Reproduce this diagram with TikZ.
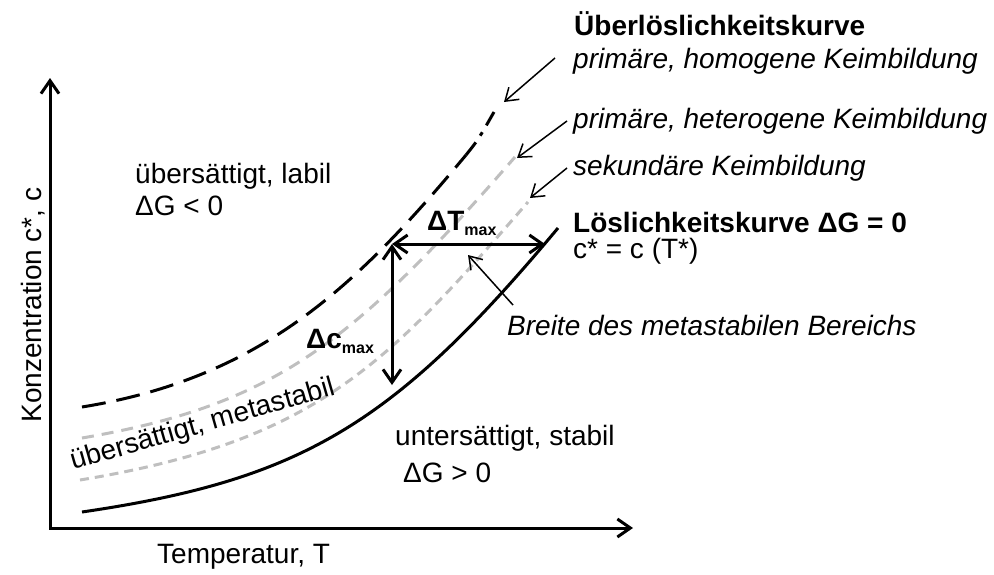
\documentclass[tikz,border=0pt]{standalone}
\usepackage{fontspec}
\setmainfont{Liberation Sans}
\usetikzlibrary{arrows.meta}
\definecolor{lightgr}{HTML}{BFBFBF}
\begin{document}
\begin{tikzpicture}[x=1pt,y=-1pt,
  every node/.style={inner sep=0pt, font=\fontsize{28}{32}\selectfont},
  lbl/.style={anchor=base west},
  axisline/.style={line width=3pt, line join=miter,
    {Straight Barb[length=13pt,width=18pt]}-{Straight Barb[length=13pt,width=18pt]}},
  deltaarrow/.style={line width=3pt,
    {Straight Barb[length=13pt,width=18pt]}-{Straight Barb[length=13pt,width=18pt]}},
  pointer/.style={line width=1.5pt, -{Straight Barb[length=12pt,width=16pt]}},
  solidcurve/.style={line width=3pt},
  blackdash/.style={line width=3pt, dash pattern=on 24pt off 11pt},
  blackdashdot/.style={line width=3pt, dash pattern=on 16pt off 8pt on 4pt off 8pt},
  graydashA/.style={line width=3pt, lightgr, dash pattern=on 12pt off 8pt},
  graydashB/.style={line width=3pt, lightgr, dash pattern=on 9pt off 6pt}
]
\useasboundingbox (0,0) rectangle (994,574);

% axes
\coordinate (ytop) at (50,78);
\coordinate (origin) at (50,528);
\coordinate (xend) at (633,528);
\draw[axisline] (ytop) -- (origin) -- (xend);

% curves
\draw[solidcurve] (82,512) .. controls (300,480) and (393,426) .. (558,228);
\draw[graydashB] (80,480) .. controls (317,441) and (387,364) .. (528,202);
\draw[graydashA] (82,438) .. controls (275,405) and (353,343) .. (515,157);
\draw[blackdash] (82,407) .. controls (261,378) and (356,287) .. (466,155);
\draw[blackdashdot] (466,155) .. controls (478,140) .. (494,112);

% curve end points and arrow ends
\coordinate (topend) at (504,102);
\coordinate (grayAend) at (517,158);
\coordinate (grayBend) at (530,198);
\coordinate (breitetip) at (468,255);
\coordinate (dcTop) at (392,244);
\coordinate (dcBot) at (392,385);
\coordinate (dTRight) at (545,244);

% delta arrows
\draw[deltaarrow] (dcTop) -- (dcBot);
\draw[deltaarrow] (dcTop) -- (dTRight);
\node[lbl] (dT) at (427,230) {\textbf{ΔT}\raisebox{-5pt}{\fontsize{16}{16}\selectfont\bfseries max}};
\node[lbl] (dc) at (306,348) {\textbf{Δc}\raisebox{-5pt}{\fontsize{16}{16}\selectfont\bfseries max}};

% labels right
\node[lbl] (ueber) at (574,35) {\textbf{Überlöslichkeitskurve}};
\node[lbl] (homo) at (573,68) {\textit{primäre, homogene Keimbildung}};
\node[lbl] (hetero) at (573,128) {\textit{primäre, heterogene Keimbildung}};
\node[lbl] (sek) at (573,175) {\textit{sekundäre Keimbildung}};
\node[lbl] (loesl) at (573,232) {\textbf{Löslichkeitskurve ΔG = 0}};
\node[lbl] (cstar) at (573,258) {c* = c (T*)};
\node[lbl] (breite) at (507,335) {\textit{Breite des metastabilen Bereichs}};

% pointer arrows
\coordinate (homoTail) at (555,58);
\coordinate (heteroTail) at (567,121);
\coordinate (sekTail) at (567,168);
\coordinate (breiteTail) at (513,305);
\draw[pointer] (homoTail) -- (topend);
\draw[pointer] (heteroTail) -- (grayAend);
\draw[pointer] (sekTail) -- (grayBend);
\draw[pointer] (breiteTail) -- (breitetip);

% region labels
\node[lbl] (labil) at (135,183) {übersättigt, labil};
\node[lbl] (gneg) at (135,215) {ΔG < 0};
\node[lbl] (stabil) at (395,445) {untersättigt, stabil};
\node[lbl] (gpos) at (403,482) {ΔG > 0};
\node[lbl, rotate=16] (meta) at (73,470) {übersättigt, metastabil};

% axis labels
\node[lbl] (xlab) at (157,563) {Temperatur, T};
\node[anchor=base, rotate=90] (ylab) at (41,305) {Konzentration c*, c};
\end{tikzpicture}
\end{document}
